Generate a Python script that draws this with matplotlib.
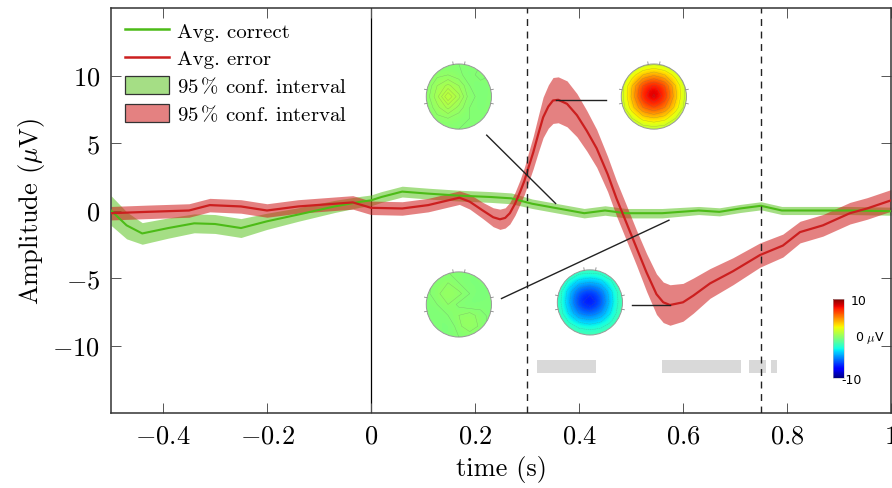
import numpy as np
import matplotlib
matplotlib.use("Agg")
import matplotlib.pyplot as plt
from matplotlib.patches import Patch, Circle
from matplotlib.lines import Line2D
from matplotlib.colors import Normalize, to_rgba
from matplotlib.cm import ScalarMappable

plt.rcParams['font.family'] = 'serif'
plt.rcParams['font.serif'] = ['cmr10']
plt.rcParams['mathtext.fontset'] = 'cm'
plt.rcParams['axes.formatter.use_mathtext'] = True
plt.rcParams['axes.unicode_minus'] = True

# --- average ERP, correct trials (time in s, amplitude in uV) ---
t_correct = [-0.5, -0.47, -0.44, -0.39, -0.34, -0.30, -0.25, -0.20, -0.14, -0.07,
             -0.02, 0.0, 0.02, 0.06, 0.11, 0.17, 0.23, 0.27, 0.31, 0.36,
             0.41, 0.45, 0.49, 0.56, 0.63, 0.67, 0.71, 0.75, 0.79, 0.86, 0.92, 1.0]
amp_correct = [0.0, -1.1, -1.7, -1.3, -0.95, -1.0, -1.3, -0.8, -0.3, 0.3,
               0.65, 0.75, 1.0, 1.4, 1.25, 1.1, 1.0, 0.9, 0.5, 0.15,
               -0.2, 0.0, -0.2, -0.2, 0.0, -0.1, 0.15, 0.35, 0.0, 0.0, 0.0, -0.05]
ci_correct = [1.1, 1.0, 0.8, 0.75, 0.7, 0.7, 0.7, 0.6, 0.5, 0.45,
              0.4, 0.4, 0.4, 0.4, 0.4, 0.4, 0.4, 0.4, 0.35, 0.35,
              0.35, 0.35, 0.35, 0.35, 0.3, 0.3, 0.3, 0.3, 0.3, 0.3, 0.3, 0.3]

# --- average ERP, error trials ---
t_error = [-0.5, -0.43, -0.35, -0.31, -0.25, -0.20, -0.14, -0.07, -0.035, 0.0,
           0.06, 0.11, 0.17, 0.19, 0.215, 0.235, 0.248, 0.258, 0.267, 0.277,
           0.287, 0.295, 0.303, 0.312, 0.322, 0.331, 0.341, 0.35, 0.36, 0.377,
           0.396, 0.415, 0.434, 0.455, 0.472, 0.49, 0.511, 0.53, 0.549, 0.562,
           0.575, 0.60, 0.62, 0.652, 0.696, 0.748, 0.792, 0.825, 0.869, 0.921,
           0.954, 1.0]
amp_error = [-0.2, -0.1, 0.0, 0.4, 0.3, 0.0, 0.3, 0.5, 0.6, 0.2,
             0.15, 0.4, 0.95, 0.65, 0.0, -0.5, -0.65, -0.55, -0.2, 0.5,
             1.4, 2.2, 3.2, 4.3, 5.7, 6.9, 7.7, 8.15, 8.2, 7.9,
             7.06, 5.9, 4.6, 2.7, 0.9, -0.8, -2.8, -4.6, -6.2, -6.8,
             -7.0, -6.8, -6.3, -5.4, -4.5, -3.3, -2.6, -1.6, -1.1, -0.2,
             0.15, 0.75]
ci_error = [0.5, 0.5, 0.5, 0.5, 0.5, 0.5, 0.5, 0.5, 0.5, 0.5,
            0.5, 0.5, 0.5, 0.55, 0.6, 0.7, 0.75, 0.75, 0.8, 0.85,
            0.9, 1.0, 1.1, 1.2, 1.35, 1.5, 1.6, 1.7, 1.7, 1.7,
            1.6, 1.5, 1.4, 1.3, 1.3, 1.3, 1.3, 1.4, 1.5, 1.5,
            1.5, 1.4, 1.3, 1.1, 1.0, 0.9, 0.85, 0.8, 0.8, 0.8,
            0.8, 0.8]

# event markers and significant windows
event_times = [0.3, 0.75]
sig_windows = [(0.320, 0.433), (0.559, 0.711), (0.726, 0.760), (0.770, 0.780)]
sig_band = (-12.0, -11.1)

xticks = [-0.4, -0.2, 0.0, 0.2, 0.4, 0.6, 0.8, 1.0]
xtick_labels = [r'$-0.4$', r'$-0.2$', r'$0$', r'$0.2$', r'$0.4$', r'$0.6$', r'$0.8$', r'$1$']
yticks = [-10, -5, 0, 5, 10]
ytick_labels = [r'$-10$', r'$-5$', r'$0$', r'$5$', r'$10$']

# scalp maps (7x7 grids, top row first, uV)
topo_correct_early = [
    [0.2, 0.2, 0.2, 0.2, 0.2, 0.2, 0.2],
    [0.2, 0.4, 0.5, 0.3, 0.0, 0.4, 0.2],
    [0.2, 0.8, 1.2, 0.8, 0.2, 0.0, 0.2],
    [0.3, 1.0, 2.0, 1.2, 0.3, 0.1, 0.2],
    [0.2, 0.7, 1.2, 0.7, 0.2, 0.1, 0.2],
    [0.2, 0.4, 0.5, 0.3, 0.2, 0.2, 0.2],
    [0.2, 0.2, 0.2, 0.2, 0.2, 0.2, 0.2],
]
topo_error_peak = [
    [0.5, 1.0, 1.5, 1.8, 1.5, 1.0, 0.5],
    [1.0, 2.5, 4.0, 4.8, 4.0, 2.5, 1.0],
    [1.5, 4.0, 7.0, 8.2, 7.0, 4.0, 1.5],
    [1.5, 4.3, 7.6, 9.2, 7.6, 4.3, 1.5],
    [1.3, 3.6, 6.0, 7.0, 6.0, 3.6, 1.3],
    [0.8, 2.0, 3.4, 3.9, 3.4, 2.0, 0.8],
    [0.4, 0.8, 1.2, 1.4, 1.2, 0.8, 0.4],
]
topo_correct_late = [
    [0.1, 0.1, 0.2, 0.2, 0.1, 0.1, 0.1],
    [0.1, 0.3, 0.5, 0.2, 0.0, 0.1, 0.1],
    [0.1, 0.4, 0.8, 0.6, 0.2, 0.0, 0.1],
    [0.1, 0.2, 0.5, 0.1, -0.1, 0.1, 0.1],
    [0.1, 0.0, 0.2, 0.5, 0.7, 0.3, 0.1],
    [0.1, 0.2, -0.1, 0.4, 0.8, 0.4, 0.1],
    [0.1, 0.1, 0.1, 0.2, 0.2, 0.1, 0.1],
]
topo_error_dip = [
    [-0.5, -0.8, -1.2, -1.3, -1.2, -0.8, -0.5],
    [-0.8, -2.0, -3.2, -3.6, -3.2, -2.0, -0.8],
    [-1.1, -3.3, -5.8, -6.6, -5.6, -3.1, -1.0],
    [-1.2, -3.6, -6.6, -7.8, -6.3, -3.3, -1.1],
    [-1.0, -3.0, -5.0, -5.6, -4.8, -2.8, -0.9],
    [-0.7, -1.7, -2.6, -3.0, -2.6, -1.7, -0.7],
    [-0.4, -0.7, -1.0, -1.1, -1.0, -0.7, -0.4],
]

# where each map sits (data coords of centre) and the link line to the curve
topo_maps = [topo_correct_early, topo_error_peak, topo_correct_late, topo_error_dip]
topo_centres = [(0.169, 8.44), (0.544, 8.44), (0.169, -6.96), (0.421, -6.81)]
link_from = [(0.2225, 5.58), (0.451, 8.22), (0.251, -6.52), (0.501, -7.01)]
link_to = [(0.355, 0.52), (0.355, 8.22), (0.573, -0.72), (0.575, -7.01)]

green_line = '#4cbb17'
green_fill = (0.36, 0.77, 0.13)
red_line = '#cc1f1f'
red_fill = (0.81, 0.10, 0.10)
fill_alpha = 0.55

W, H = 892, 489
fig = plt.figure(figsize=(W / 100, H / 100), dpi=100)
ax = fig.add_axes([111 / W, 1 - 414 / H, 780 / W, 405 / H])

tc = np.array(t_correct)
ac = np.array(amp_correct)
cc = np.array(ci_correct)
te = np.array(t_error)
ae = np.array(amp_error)
ce = np.array(ci_error)

ax.fill_between(tc, ac - cc, ac + cc, color=green_fill, alpha=fill_alpha, lw=0, zorder=2)
ax.fill_between(te, ae - ce, ae + ce, color=red_fill, alpha=fill_alpha, lw=0, zorder=2)
ax.plot(tc, ac, color=green_line, lw=1.5, zorder=3)
ax.plot(te, ae, color=red_line, lw=1.6, zorder=3)

ax.axvline(0, color='black', lw=0.9, zorder=1)
for ev in event_times:
    ax.axvline(ev, color='#222222', lw=1.0, ls=(0, (5, 4)), zorder=4)

for t0, t1 in sig_windows:
    ax.fill_between([t0, t1], sig_band[0], sig_band[1], color='#d9d9d9', lw=0, zorder=1)

for (x0, y0), (x1, y1) in zip(link_from, link_to):
    ax.plot([x0, x1], [y0, y1], color='#222222', lw=1.0, zorder=5)

ax.set_xlim(-0.5, 1.0)
ax.set_ylim(-15, 15)
ax.set_xticks(xticks)
ax.set_xticklabels(xtick_labels)
ax.set_yticks(yticks)
ax.set_yticklabels(ytick_labels)
ax.tick_params(direction='in', top=True, right=True, length=7, width=0.7,
               color='#555555', labelsize=19, pad=8)
for sp in ax.spines.values():
    sp.set_linewidth(1.1)
    sp.set_color('#333333')
ax.set_xlabel('time (s)', fontsize=19, labelpad=5)
ax.set_ylabel(r'Amplitude ($\mu$V)', fontsize=19, labelpad=4)

handles = [
    Line2D([], [], color=green_line, lw=1.8),
    Line2D([], [], color=red_line, lw=1.8),
    Patch(facecolor=to_rgba(green_fill, fill_alpha), edgecolor='#333333', lw=0.9),
    Patch(facecolor=to_rgba(red_fill, fill_alpha), edgecolor='#333333', lw=0.9),
]
labels = ['Avg. correct', 'Avg. error', r'95$\,$% conf. interval', r'95$\,$% conf. interval']
ax.legend(handles, labels, loc='upper left', bbox_to_anchor=(0.0, 1.0), frameon=False,
          fontsize=15, handlelength=2.15, handleheight=0.9, labelspacing=0.35,
          handletextpad=0.35, borderaxespad=0.3, borderpad=0.35)

# scalp maps as small inset axes
fig.canvas.draw()
topo_px = 73
n = 7
d = 2.0 / (n - 1)
gx = np.linspace(-1, 1, n)
for grid, centre in zip(topo_maps, topo_centres):
    cx, cy = ax.transData.transform(centre)
    w = topo_px / W
    h = topo_px / H
    tax = fig.add_axes([cx / W - w / 2, cy / H - h / 2, w, h])
    g = np.array(grid)
    im = tax.imshow(g, cmap='jet', vmin=-10, vmax=10, interpolation='bicubic',
                    extent=(-1 - d / 2, 1 + d / 2, -1 - d / 2, 1 + d / 2), origin='upper')
    im.set_clip_path(Circle((0, 0), 1.0, transform=tax.transData))
    step = 1.0 if np.abs(g).max() > 4 else 0.3
    cs = tax.contour(gx, gx, g[::-1], levels=np.arange(-10, 10.01, step),
                     colors='#666666', linewidths=0.3, alpha=0.4)
    cs.set_clip_path(Circle((0, 0), 1.0, transform=tax.transData))
    tax.add_patch(Circle((0, 0), 1.0, fill=False, ec='#999999', lw=0.7))
    for ang in [80, 100, 168, 192, -12, 12]:
        a = np.deg2rad(ang)
        tax.plot([np.cos(a), 1.08 * np.cos(a)], [np.sin(a), 1.08 * np.sin(a)],
                 color='#888888', lw=0.6)
    tax.set_xlim(-1.12, 1.12)
    tax.set_ylim(-1.12, 1.12)
    tax.axis('off')

# colour bar
cax = fig.add_axes([833 / W, 1 - 379 / H, 11 / W, 79 / H])
cb = fig.colorbar(ScalarMappable(norm=Normalize(-10, 10), cmap='jet'), cax=cax, ticks=[])
cb.outline.set_linewidth(0.4)
cb.outline.set_edgecolor('#bbbbbb')
cfont = dict(fontsize=9, family=['DejaVu Sans'], va='center', ha='left')
cax.text(1.6, 0.98, '10', transform=cax.transAxes, **cfont)
cax.text(2.0, 0.52, r'0 $\mu$V', transform=cax.transAxes, **cfont)
cax.text(0.8, -0.02, '-10', transform=cax.transAxes, **cfont)

fig.savefig('out.png', dpi=100)
